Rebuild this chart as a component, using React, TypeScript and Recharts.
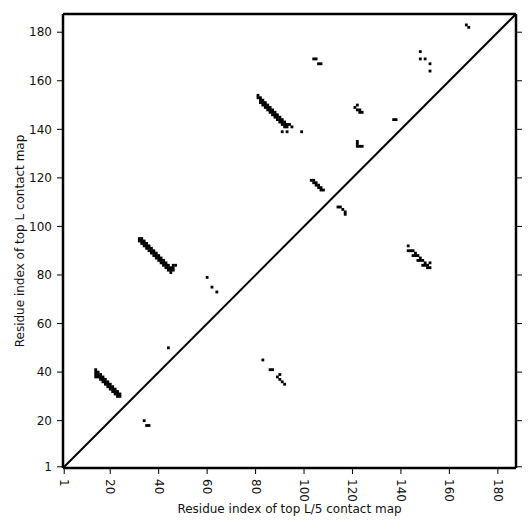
import React from 'react';
import { ScatterChart, Scatter, XAxis, YAxis, ReferenceLine } from 'recharts';

// residue indices, one contact = one [i, j] cell
const seqLength = 187;
const axisTicks = [1, 20, 40, 60, 80, 100, 120, 140, 160, 180];

// above the diagonal (top L contact map)
const strandPairN: [number, number][] = [
  [14, 38], [14, 39], [14, 40], [14, 41],
  [15, 38], [15, 39], [15, 40], [16, 37], [16, 38], [16, 39], [17, 36], [17, 37], [17, 38],
  [18, 35], [18, 36], [18, 37], [19, 34], [19, 35], [19, 36], [20, 33], [20, 34], [20, 35],
  [21, 32], [21, 33], [21, 34], [22, 31], [22, 32], [22, 33], [23, 30], [23, 31], [23, 32],
  [24, 30], [24, 31],
];
const strandPairM: [number, number][] = [
  [32, 95], [32, 94], [33, 93], [33, 94], [33, 95], [34, 92], [34, 93], [34, 94],
  [35, 91], [35, 92], [35, 93], [36, 90], [36, 91], [36, 92], [37, 89], [37, 90], [37, 91],
  [38, 88], [38, 89], [38, 90], [39, 87], [39, 88], [39, 89], [40, 86], [40, 87], [40, 88],
  [41, 85], [41, 86], [41, 87], [42, 84], [42, 85], [42, 86], [43, 83], [43, 84], [43, 85],
  [44, 82], [44, 83], [44, 84], [45, 81], [45, 82], [45, 83], [46, 82], [46, 83], [46, 84],
  [47, 84],
];
const strandPairC: [number, number][] = [
  [81, 153], [81, 154], [82, 151], [82, 152], [82, 153], [83, 150], [83, 151], [83, 152],
  [84, 149], [84, 150], [84, 151], [85, 148], [85, 149], [85, 150], [86, 147], [86, 148],
  [86, 149], [87, 146], [87, 147], [87, 148], [88, 145], [88, 146], [88, 147], [89, 144],
  [89, 145], [89, 146], [90, 143], [90, 144], [90, 145], [91, 142], [91, 143], [91, 144],
  [92, 141], [92, 142], [92, 143], [93, 141], [93, 142], [94, 142], [95, 141],
  [91, 139], [93, 139], [99, 139],
];
const helixPairs: [number, number][] = [
  [103, 119], [104, 119], [104, 118], [105, 118], [105, 117], [106, 117], [106, 116],
  [107, 116], [107, 115], [108, 115],
];
const scatteredTopL: [number, number][] = [
  [44, 50], [60, 79], [62, 75], [64, 73],
  [104, 169], [105, 169], [106, 167], [107, 167],
  [121, 149], [122, 148], [122, 150], [123, 148], [123, 147], [124, 147],
  [122, 135], [122, 134], [122, 133], [123, 133], [124, 133],
  [137, 144], [138, 144],
  [148, 172], [148, 169], [150, 169], [152, 167], [152, 164],
  [167, 183], [168, 182],
];

// below the diagonal (top L/5 contact map)
const topL5Contacts: [number, number][] = [
  [34, 20], [35, 18], [36, 18],
  [83, 45], [86, 41], [87, 41], [89, 38], [90, 39], [90, 37], [91, 36], [92, 35],
  [114, 108], [115, 108], [116, 107], [117, 106], [117, 105],
  [143, 92], [143, 90], [144, 90], [145, 90], [146, 89], [145, 88], [146, 88], [147, 88],
  [148, 87], [147, 86], [148, 86], [149, 86], [150, 85], [149, 84], [150, 84], [151, 84],
  [152, 85], [151, 83], [152, 83],
];

const toPoints = (pairs: [number, number][]) => pairs.map(([i, j]) => ({ x: i, y: j }));

const topLData = toPoints([...strandPairN, ...strandPairM, ...strandPairC, ...helixPairs, ...scatteredTopL]);
const topL5Data = toPoints(topL5Contacts);

const W = 531;
const H = 531;
const LEFT = 63;
const RIGHT = 15;
const TOP = 14;
const BOTTOM = 63;
const domain: [number, number] = [0.5, seqLength + 0.5];
const cell = (W - LEFT - RIGHT) / (domain[1] - domain[0]);

const font = 'DejaVu Sans, sans-serif';
const textColor = '#111';

const CellShape = (props: any) => {
  const { cx, cy } = props;
  if (cx == null || cy == null) return <g />;
  return (
    <rect
      x={cx - cell / 2 - 0.2}
      y={cy - cell / 2 - 0.2}
      width={cell + 0.4}
      height={cell + 0.4}
      fill="#000"
    />
  );
};

const RotatedTick = (props: any) => {
  const { x, y, payload } = props;
  return (
    <text
      transform={`translate(${x},${y}) rotate(90)`}
      x={0}
      y={0}
      textAnchor="start"
      dominantBaseline="central"
      fontSize={12}
      fontFamily={font}
      fill={textColor}
    >
      {payload.value}
    </text>
  );
};

export default function App() {
  return (
    <div style={{ position: 'absolute', left: 0, top: 0, background: '#fff' }}>
      <ScatterChart width={W} height={H} margin={{ top: 0, right: 0, bottom: 0, left: 0 }}>
        <XAxis
          xAxisId="bottom"
          type="number"
          dataKey="x"
          domain={domain}
          allowDataOverflow
          ticks={axisTicks}
          interval={0}
          height={BOTTOM}
          stroke="#000"
          axisLine={{ strokeWidth: 2.5 }}
          tickSize={6}
          tickMargin={5}
          tick={<RotatedTick />}
          label={{
            value: 'Residue index of top L/5 contact map',
            position: 'insideBottom',
            offset: 18,
            fill: textColor,
            fontSize: 12,
            fontFamily: font,
          }}
        />
        <XAxis
          xAxisId="top"
          orientation="top"
          type="number"
          domain={domain}
          allowDataOverflow
          ticks={axisTicks}
          interval={0}
          height={TOP}
          stroke="#000"
          axisLine={{ strokeWidth: 2.5 }}
          tickSize={6}
          tickFormatter={() => ''}
        />
        <YAxis
          yAxisId="left"
          type="number"
          dataKey="y"
          domain={domain}
          allowDataOverflow
          ticks={axisTicks}
          interval={0}
          width={LEFT}
          stroke="#000"
          axisLine={{ strokeWidth: 2.5 }}
          tickSize={6}
          tickMargin={5}
          tick={{ fill: textColor, fontSize: 12, fontFamily: font }}
          label={{
            value: 'Residue index of top L contact map',
            angle: -90,
            position: 'insideLeft',
            offset: 20,
            fill: textColor,
            fontSize: 12,
            fontFamily: font,
            style: { textAnchor: 'middle' },
          }}
        />
        <YAxis
          yAxisId="right"
          orientation="right"
          type="number"
          domain={domain}
          allowDataOverflow
          ticks={axisTicks}
          interval={0}
          width={RIGHT}
          stroke="#000"
          axisLine={{ strokeWidth: 2.5 }}
          tickSize={6}
          tickFormatter={() => ''}
        />
        <ReferenceLine
          xAxisId="bottom"
          yAxisId="left"
          segment={[
            { x: domain[0], y: domain[0] },
            { x: domain[1], y: domain[1] },
          ]}
          stroke="#000"
          strokeWidth={2}
        />
        <Scatter
          name="top L"
          data={topLData}
          xAxisId="bottom"
          yAxisId="left"
          shape={<CellShape />}
          isAnimationActive={false}
        />
        <Scatter
          name="top L/5"
          data={topL5Data}
          xAxisId="bottom"
          yAxisId="left"
          shape={<CellShape />}
          isAnimationActive={false}
        />
      </ScatterChart>
    </div>
  );
}
